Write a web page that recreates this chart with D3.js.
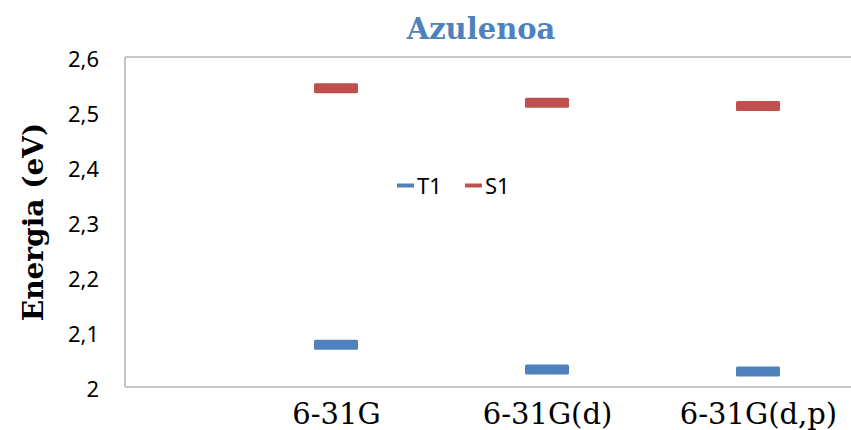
<!DOCTYPE html>
<html>
<head>
<meta charset="utf-8">
<script src="https://cdn.jsdelivr.net/npm/d3@7"></script>
<style>
  html, body { margin: 0; padding: 0; background: #fff; }
  svg { display: block; }
</style>
</head>
<body>
<svg id="chart" width="851" height="430"></svg>
<script>
// ---- data ----
const categories = ["", "6-31G", "6-31G(d)", "6-31G(d,p)"];
const seriesNames = ["T1", "S1"];
const T1 = [null, 2.077, 2.032, 2.028];
const S1 = [null, 2.543, 2.517, 2.511];
const yTicks = [2, 2.1, 2.2, 2.3, 2.4, 2.5, 2.6];
const titleText = "Azulenoa";
const yTitle = "Energia (eV)";
const colors = ["#4F81BD", "#C0504D"];

// ---- layout ----
const W = 851, H = 430;
const plot = { left: 125, right: 851, top: 57, bottom: 387 };
const svg = d3.select("#chart");

const x = d3.scalePoint().domain(categories).range([plot.left, 758]);
const y = d3.scaleLinear().domain([2, 2.6]).range([plot.bottom, plot.top]);

// frame (left, top, bottom)
const frame = svg.append("g").attr("stroke", "#b5b5b5").attr("stroke-width", 1.6).attr("fill", "none");
frame.append("line").attr("x1", plot.left).attr("x2", plot.left).attr("y1", plot.top).attr("y2", plot.bottom);
frame.append("line").attr("x1", plot.left).attr("x2", plot.right).attr("y1", plot.top).attr("y2", plot.top);
frame.append("line").attr("x1", plot.left).attr("x2", plot.right).attr("y1", plot.bottom).attr("y2", plot.bottom);

// y axis
const yAxis = d3.axisLeft(y).tickValues(yTicks).tickSize(0).tickPadding(26)
  .tickFormat(d => d3.format(".1~f")(d).replace(".", ","));
const gy = svg.append("g").attr("transform", `translate(${plot.left},0)`).call(yAxis);
gy.select(".domain").remove();
gy.selectAll("text").attr("font-family", "'Noto Sans', sans-serif").attr("font-size", 22)
  .attr("fill", "#000").attr("dy", "0.42em");

// x axis
const xAxis = d3.axisBottom(x).tickSize(0).tickPadding(15);
const gx = svg.append("g").attr("transform", `translate(0,${plot.bottom})`).call(xAxis);
gx.select(".domain").remove();
gx.selectAll("text").attr("font-family", "'DejaVu Serif', serif").attr("font-size", 29)
  .attr("fill", "#000").attr("dy", "0.76em");

// markers
const series = [T1, S1];
series.forEach((vals, si) => {
  svg.append("g").selectAll("rect")
    .data(categories.map((c, i) => ({ c, v: vals[i] })).filter(d => d.v != null))
    .join("rect")
    .attr("x", d => x(d.c) - 22)
    .attr("y", d => y(d.v) - 5)
    .attr("width", 44)
    .attr("height", 10)
    .attr("rx", 1.5)
    .attr("fill", colors[si]);
});

// legend
const legend = svg.append("g").attr("font-family", "'Noto Sans', sans-serif").attr("font-size", 22);
const legX = [397, 465];
seriesNames.forEach((name, i) => {
  legend.append("line").attr("x1", legX[i]).attr("x2", legX[i] + 17)
    .attr("y1", 185.5).attr("y2", 185.5).attr("stroke", colors[i]).attr("stroke-width", 4);
  legend.append("text").attr("x", legX[i] + 20).attr("y", 193.5).text(name).attr("fill", "#000");
});

// title
svg.append("text").attr("x", 481).attr("y", 39).attr("text-anchor", "middle")
  .attr("font-family", "'DejaVu Serif', serif").attr("font-weight", "bold").attr("font-size", 29)
  .attr("fill", "#4F81BD").text(titleText);

// y title
svg.append("text").attr("transform", "translate(43,222) rotate(-90)").attr("text-anchor", "middle")
  .attr("font-family", "'DejaVu Serif', serif").attr("font-weight", "bold").attr("font-size", 28)
  .attr("fill", "#000").text(yTitle);
</script>
</body>
</html>
